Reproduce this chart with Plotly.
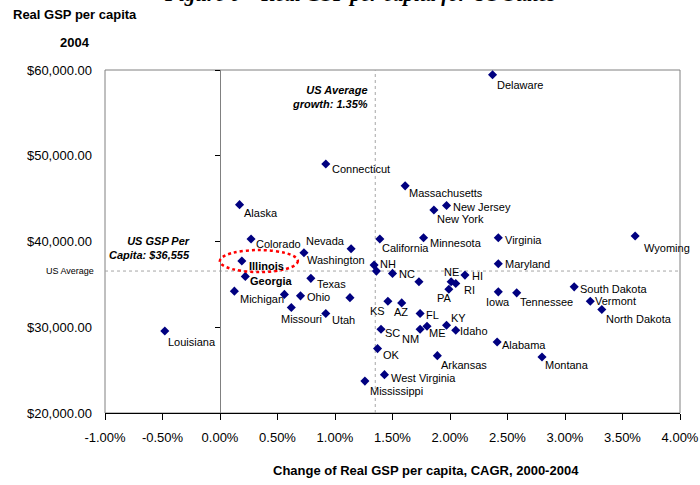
import plotly.graph_objects as go

# Real GSP per capita (2004, USD) vs. CAGR of real GSP per capita 2000-2004 (%)
states = [
    "Delaware", "Connecticut", "Massachusetts", "New Jersey", "New York",
    "Alaska", "Colorado", "Illinois", "Georgia", "Nevada", "Washington",
    "Texas", "Michigan", "", "Ohio", "Missouri", "Utah", "", "Louisiana",
    "California", "Minnesota", "Virginia", "Maryland", "NH", "", "NC", "",
    "NE", "RI", "PA", "HI", "Iowa", "Tennessee", "KS", "AZ", "FL", "KY",
    "ME", "NM", "Idaho", "SC", "OK", "Alabama", "Arkansas", "West Virginia",
    "Mississippi", "Montana", "Wyoming", "South Dakota", "Vermont",
    "North Dakota",
]
growth = [
    2.37, 0.92, 1.61, 1.97, 1.86,
    0.17, 0.27, 0.19, 0.22, 1.14, 0.73,
    0.79, 0.125, 0.56, 0.70, 0.62, 0.92, 1.13, -0.48,
    1.39, 1.77, 2.42, 2.42, 1.34, 1.36, 1.50, 1.73,
    2.01, 2.05, 1.99, 2.13, 2.42, 2.58, 1.46, 1.58, 1.74, 1.97,
    1.80, 1.74, 2.05, 1.40, 1.37, 2.41, 1.89, 1.43,
    1.26, 2.80, 3.61, 3.08, 3.22,
    3.32,
]
gsp = [
    59440, 49030, 46490, 44190, 43680,
    44300, 40290, 37720, 35930, 39160, 38690,
    35700, 34210, 33830, 33660, 32300, 31600, 33450, 29570,
    40290, 40440, 40440, 37400, 37250, 36550, 36280, 35300,
    35300, 35110, 34440, 36080, 34130, 34010, 33040, 32840, 31600, 30230,
    30120, 29770, 29650, 29770, 27510, 28280, 26690, 24470,
    23720, 26530, 40640, 34710, 33040,
    32070,
]

US_AVG_GROWTH = 1.35
US_AVG_GSP = 36555
highlight_bold = ["Illinois", "Georgia"]

x_ticks = [-1.0, -0.5, 0.0, 0.5, 1.0, 1.5, 2.0, 2.5, 3.0, 3.5, 4.0]
x_tick_labels = [f"{v:.2f}%" for v in x_ticks]
y_ticks = [20000, 30000, 40000, 50000, 60000]
y_tick_labels = [f"${v:,.2f}" for v in y_ticks]
X_RANGE = [-1.0, 4.0]
Y_RANGE = [20000, 60000]

# label placement: (xanchor, dx px, dy px downward)
label_offsets = {
    "Delaware": ("left", 2, 10), "Connecticut": ("left", 4, 5),
    "Massachusetts": ("left", 2, 7), "New Jersey": ("left", 4, 1),
    "New York": ("left", 1, 9), "Alaska": ("left", 2, 8),
    "Colorado": ("left", 3, 5), "Illinois": ("left", 5, 5),
    "Georgia": ("left", 3, 5), "Nevada": ("right", -4, -8),
    "Washington": ("left", 1, 7), "Texas": ("left", 4, 6),
    "Michigan": ("left", 4, 8), "Ohio": ("left", 4, 1),
    "Missouri": ("center", 10, 11), "Utah": ("left", 4, 6),
    "Louisiana": ("left", 1, 11), "California": ("left", 0, 9),
    "Minnesota": ("left", 4, 5), "Virginia": ("left", 5, 2),
    "Maryland": ("left", 5, 0), "NH": ("left", 4, -1),
    "NC": ("left", 4, 1), "NE": ("center", 0, -10),
    "RI": ("left", 6, 7), "PA": ("center", -4, 9),
    "HI": ("left", 5, 1), "Iowa": ("center", 0, 10),
    "Tennessee": ("left", 1, 9), "KS": ("right", -1, 10),
    "AZ": ("center", -1, 9), "FL": ("left", 4, 1),
    "KY": ("left", 2, -7), "ME": ("left", 0, 7),
    "NM": ("right", 1, 10), "Idaho": ("left", 2, 1),
    "SC": ("left", 2, 4), "OK": ("left", 3, 6),
    "Alabama": ("left", 3, 3), "Arkansas": ("left", 2, 9),
    "West Virginia": ("left", 5, 3), "Mississippi": ("left", 3, 10),
    "Montana": ("left", 1, 8), "Wyoming": ("left", 7, 12),
    "South Dakota": ("left", 4, 2), "Vermont": ("left", 3, 0),
    "North Dakota": ("left", 2, 9),
}

FONT = "Arial, 'Liberation Sans', sans-serif"
W, H = 700, 485
ML, MR, MT, MB = 105, 20, 70, 72
PW, PH = W - ML - MR, H - MT - MB


def px_x(px):
    return (px - ML) / PW


fig = go.Figure()

fig.add_trace(go.Scatter(
    x=growth, y=gsp, mode="markers",
    marker=dict(symbol="diamond", size=7, color="#000080",
                line=dict(width=0)),
    hoverinfo="text", text=states, showlegend=False,
))

# invisible trace carrying the zero-growth axis with its ticks
fig.add_trace(go.Scatter(x=[0], y=[Y_RANGE[0]], yaxis="y2", mode="markers",
                         marker=dict(opacity=0), showlegend=False,
                         hoverinfo="skip"))

annotations = []
for name, gx, gy in zip(states, growth, gsp):
    if not name:
        continue
    anchor, dx, dy = label_offsets[name]
    bold = name in highlight_bold
    annotations.append(dict(
        x=gx, y=gy, xref="x", yref="y", showarrow=False,
        text=f"<b>{name}</b>" if bold else name,
        xanchor=anchor, yanchor="middle", xshift=dx, yshift=-dy,
        font=dict(family=FONT, size=11, color="#000000"),
    ))

# reference-line labels
annotations += [
    dict(x=US_AVG_GROWTH, y=1, xref="x", yref="paper", xanchor="right",
         yanchor="top", xshift=-5, yshift=-12, showarrow=False, align="right",
         text=f"<b><i>US Average<br>growth: {US_AVG_GROWTH:.2f}%</i></b>",
         font=dict(family=FONT, size=11, color="#000000")),
    dict(x=0, y=US_AVG_GSP, xref="x", yref="y", xanchor="right",
         yanchor="bottom", xshift=-28, yshift=8, showarrow=False, align="right",
         text=f"<b><i>US GSP Per<br>Capita: ${US_AVG_GSP:,}</i></b>",
         font=dict(family=FONT, size=11, color="#000000")),
    dict(x=px_x(96), y=US_AVG_GSP, xref="paper", yref="y", xanchor="right",
         yanchor="middle", showarrow=False, text="US Average",
         font=dict(family=FONT, size=9, color="#000000")),
    # axis titles
    dict(x=px_x(75), y=1, xref="paper", yref="paper", xanchor="center",
         yanchor="middle", yshift=MT - 14, showarrow=False,
         text="<b>Real GSP per capita</b>",
         font=dict(family=FONT, size=13, color="#000000")),
    dict(x=px_x(75), y=1, xref="paper", yref="paper", xanchor="center",
         yanchor="middle", yshift=MT - 42, showarrow=False, text="<b>2004</b>",
         font=dict(family=FONT, size=13, color="#000000")),
    dict(x=px_x(426), y=0, xref="paper", yref="paper", xanchor="center",
         yanchor="middle", yshift=-(470 - (MT + PH)), showarrow=False,
         text="<b>Change of Real GSP per capita, CAGR, 2000-2004</b>",
         font=dict(family=FONT, size=13, color="#000000")),
    # figure caption, running off the top edge
    dict(x=px_x(360), y=1, xref="paper", yref="paper", xanchor="center",
         yanchor="middle", yshift=MT + 6, showarrow=False,
         text="<b><i>Figure 6 – Real GSP per capita for US States</i></b>",
         font=dict(family="'Times New Roman', 'Liberation Serif', serif",
                   size=21, color="#000000")),
]

il = states.index("Illinois")
shapes = [
    # plot frame
    dict(type="rect", xref="paper", yref="paper", x0=0, x1=1, y0=0, y1=1,
         line=dict(color="#808080", width=1), layer="below"),
    # US average reference lines
    dict(type="line", xref="x", yref="paper", x0=US_AVG_GROWTH,
         x1=US_AVG_GROWTH, y0=0, y1=1,
         line=dict(color="#A6A6A6", width=1, dash="dot"), layer="below"),
    dict(type="line", xref="paper", yref="y", x0=0, x1=1, y0=US_AVG_GSP,
         y1=US_AVG_GSP, line=dict(color="#A6A6A6", width=1, dash="dot"),
         layer="below"),
    # highlight around Illinois
    dict(type="circle", xref="x", yref="y", xsizemode="pixel",
         ysizemode="pixel", xanchor=growth[il], yanchor=gsp[il],
         x0=-22, x1=56, y0=-11, y1=11,
         line=dict(color="#FF0000", width=2.5, dash="dot")),
]

axis_font = dict(family=FONT, size=13, color="#000000")
fig.update_layout(
    width=W, height=H,
    margin=dict(l=ML, r=MR, t=MT, b=MB, pad=0, autoexpand=False),
    paper_bgcolor="#FFFFFF", plot_bgcolor="#FFFFFF",
    font=dict(family=FONT, color="#000000"),
    xaxis=dict(range=X_RANGE, tickvals=x_ticks, ticktext=x_tick_labels,
               showgrid=False, zeroline=False, automargin=False,
               showline=True, linecolor="#000000", linewidth=1,
               ticks="outside", ticklen=6, tickcolor="#000000",
               tickfont=axis_font, ticklabelstandoff=6, fixedrange=True),
    yaxis=dict(range=Y_RANGE, tickvals=y_ticks, ticktext=y_tick_labels,
               showgrid=False, zeroline=False, showline=False, ticks="",
               automargin=False,
               tickfont=axis_font, ticklabelstandoff=12, fixedrange=True),
    yaxis2=dict(range=Y_RANGE, overlaying="y", anchor="free",
                position=(0 - X_RANGE[0]) / (X_RANGE[1] - X_RANGE[0]),
                tickvals=y_ticks, showticklabels=False, showgrid=False,
                zeroline=False, showline=True, linecolor="#808080",
                linewidth=1, ticks="outside", ticklen=5, automargin=False,
                tickcolor="#000000", fixedrange=True),
    annotations=annotations,
    shapes=shapes,
)

fig.write_html("out.html")
